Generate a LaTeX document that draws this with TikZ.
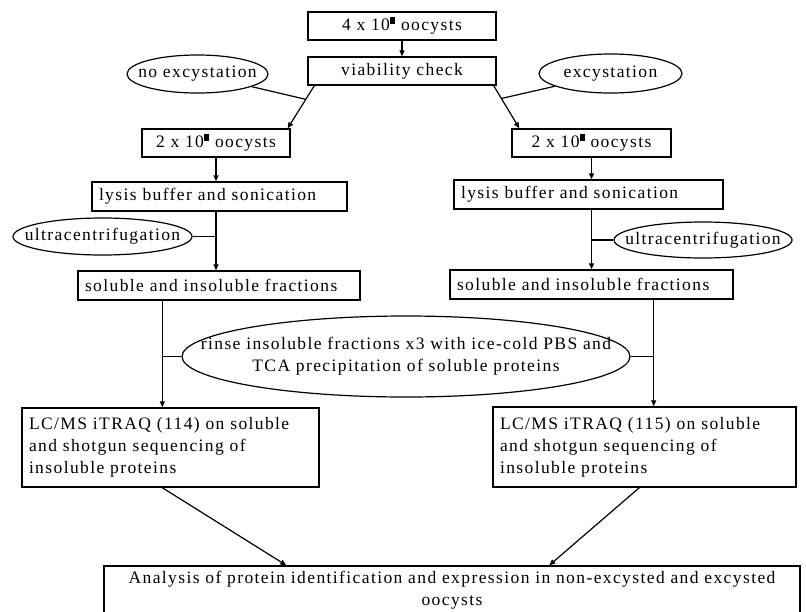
\documentclass[tikz,border=0pt]{standalone}
\usepackage{fontspec}
\setmainfont{Liberation Serif}[LetterSpace=8]
\usetikzlibrary{arrows.meta,shapes.geometric,calc}
\newcommand{\blsq}{\raisebox{0.42em}{\rule{0.3em}{0.36em}}}
\begin{document}
\begin{tikzpicture}[x=1pt,y=-1pt,
  every node/.style={font=\fontsize{17.5}{22}\selectfont},
  box/.style={draw, line width=1.4pt, inner sep=0pt, align=center},
  lbox/.style={draw, line width=1.4pt, inner ysep=0pt, inner xsep=7pt, align=left},
  oval/.style={draw, ellipse, line width=1.2pt, inner sep=0pt},
  ovaltext/.style={align=center, inner sep=0pt},
  conn/.style={line width=1.2pt},
  arr/.style={conn, -{Triangle[length=6pt,width=5pt]}}
]
\clip (0,0) rectangle (806,611);
\fill[white] (0,0) rectangle (806,611);

% boxes
\node[box, minimum width=188pt, minimum height=28pt] (top) at (402,26) {4 x 10\blsq{} oocysts};
\node[box, minimum width=188pt, minimum height=28pt] (via) at (402,71) {viability check};
\node[oval, minimum width=141pt, minimum height=38pt] (noexc) at (197.5,74) {};
\node[ovaltext] (noexct) at (noexc) {no excystation};
\node[oval, minimum width=143pt, minimum height=39pt] (exc) at (610.5,73.5) {};
\node[ovaltext] (exct) at (exc) {excystation};

\node[box, minimum width=148pt, minimum height=28pt] (L2) at (216,143) {2 x 10\blsq{} oocysts};
\node[box, minimum width=159pt, minimum height=28pt] (R2) at (591.5,143) {2 x 10\blsq{} oocysts};

\node[lbox, text width=241pt, minimum height=29pt] (lysL) at (219.5,196.5) {lysis buffer and sonication};
\node[lbox, text width=255pt, minimum height=29pt] (lysR) at (588.5,194.5) {lysis buffer and sonication};

\node[oval, minimum width=179pt, minimum height=37pt] (ultL) at (102.5,236.5) {};
\node[ovaltext] (ultLt) at (ultL) {ultracentrifugation};
\node[oval, minimum width=178pt, minimum height=36pt] (ultR) at (703,240) {};
\node[ovaltext] (ultRt) at (ultR) {ultracentrifugation};

\node[lbox, text width=268pt, minimum height=29pt] (solL) at (219,285.5) {soluble and insoluble fractions};
\node[lbox, text width=269pt, minimum height=29pt] (solR) at (591.5,284.5) {soluble and insoluble fractions};

\node[oval, minimum width=448pt, minimum height=81pt] (big) at (406,356.5) {};
\node[ovaltext] (bigt) at (big) {rinse insoluble fractions x3 with ice-cold PBS and\\TCA precipitation of soluble proteins};

\node[lbox, text width=283pt, minimum height=79pt] (lcL) at (170.5,447.5) {LC/MS iTRAQ (114) on soluble\\and shotgun sequencing of\\insoluble proteins};
\node[lbox, text width=289pt, minimum height=80pt] (lcR) at (644.5,447) {LC/MS iTRAQ (115) on soluble\\and shotgun sequencing of\\insoluble proteins};

\node[box, minimum width=696pt, minimum height=48pt] (bot) at (452,590) {Analysis of protein identification and expression in non-excysted and excysted\\oocysts};

% connectors
\draw[arr] (top) -- (via);

\coordinate (vL) at ($(via.south west)+(7,0)$);
\coordinate (L2t) at ($(L2.north east)+(-3,0)$);
\draw[arr] (vL) -- (L2t);
\coordinate (jL) at ($(vL)!0.32!(L2t)$);
\draw[conn] (noexc) -- (jL);

\coordinate (vR) at ($(via.south east)+(-3,0)$);
\coordinate (R2t) at ($(R2.north west)+(8,0)$);
\draw[arr] (vR) -- (R2t);
\coordinate (jR) at ($(vR)!0.3!(R2t)$);
\draw[conn] (exc) -- (jR);

\draw[arr] (L2) -- (L2 |- lysL.north);
\draw[arr] (R2) -- (R2 |- lysR.north);
\draw[arr] (L2 |- lysL.south) -- (L2 |- solL.north);
\draw[arr] (R2 |- lysR.south) -- (R2 |- solR.north);
\coordinate (uL) at (L2 |- ultL);
\draw[conn] (ultL) -- (uL);
\coordinate (uR) at (R2 |- ultR);
\draw[conn] (ultR) -- (uR);

\coordinate (sL) at ($(solL.south west)+(85,0)$);
\draw[arr] (sL) -- (sL |- lcL.north);
\coordinate (bjL) at (sL |- big);
\draw[conn] (big) -- (bjL);
\coordinate (sR) at ($(solR.south east)+(-80,0)$);
\draw[arr] (sR) -- (sR |- lcR.north);
\coordinate (bjR) at (sR |- big);
\draw[conn] (big) -- (bjR);

\coordinate (bL) at (sL |- lcL.south);
\coordinate (bLt) at ($(bot.north west)+(183,0)$);
\draw[arr] (bL) -- (bLt);
\coordinate (bR) at ($(lcR.south west)+(147,0)$);
\coordinate (bRt) at ($(bot.north west)+(446,0)$);
\draw[arr] (bR) -- (bRt);
\end{tikzpicture}
\end{document}
